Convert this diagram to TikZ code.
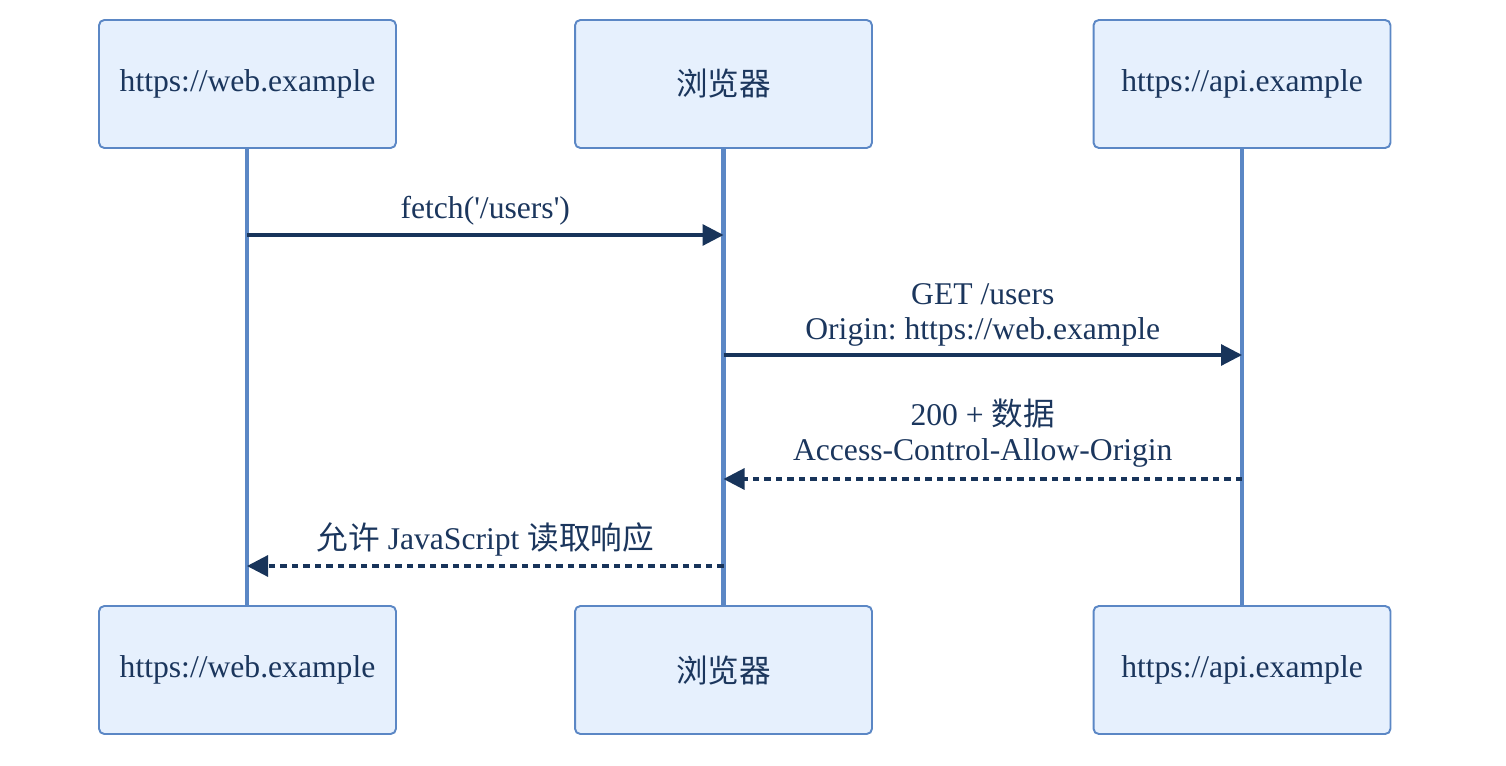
\documentclass[tikz,border=0pt]{standalone}
\usepackage{fontspec}
\setmainfont{Liberation Serif}
\newfontfamily\cjk{Noto Sans CJK SC}
\usepackage{tikz}
\usetikzlibrary{arrows.meta, positioning}
\definecolor{actorfill}{RGB}{230, 240, 253}
\definecolor{actorline}{RGB}{91, 135, 197}
\definecolor{msgcolor}{RGB}{24, 52, 90}
\definecolor{textcolor}{RGB}{27, 54, 93}
\frenchspacing

\begin{document}
\begin{tikzpicture}[
    x=0.02cm, y=-0.02cm,
    font=\fontsize{18}{19.9}\selectfont,
    actor/.style={draw=actorline, fill=actorfill, line width=1.1pt, rounded corners=3pt,
        minimum width=5.94cm, minimum height=2.56cm, text=textcolor, inner sep=0pt},
    lifeline/.style={draw=actorline, line width=2.3pt},
    msg/.style={-{Triangle[length=0.42cm, width=0.42cm]}, draw=msgcolor, line width=1.8pt},
    reply/.style={msg, dash pattern=on 0.13cm off 0.1cm},
    lbl/.style={text=textcolor, align=center, inner sep=0pt}
]
    \useasboundingbox (0,0) rectangle (1506,766);

    % Lifelines (drawn first, under the boxes)
    \coordinate (webtop) at (247,148);
    \coordinate (webbot) at (247,606);
    \coordinate (brtop) at (723.5,148);
    \coordinate (brbot) at (723.5,606);
    \coordinate (apitop) at (1242,148);
    \coordinate (apibot) at (1242,606);
    \draw[lifeline] (webtop) -- (webbot);
    \draw[lifeline] (brtop) -- (brbot);
    \draw[lifeline] (apitop) -- (apibot);

    % Participants
    \node[actor] (web) at (247.5,84) {https://web.example};
    \node[actor] (browser) at (723.5,84) {\cjk 浏览器};
    \node[actor] (api) at (1242,84) {https://api.example};
    \node[actor] (web2) at (247.5,670) {https://web.example};
    \node[actor] (browser2) at (723.5,670) {\cjk 浏览器};
    \node[actor] (api2) at (1242,670) {https://api.example};

    % Messages
    \draw[msg] (webtop |- 0,235) -- (brtop |- 0,235)
        node[lbl, midway, yshift=0.49cm] {fetch(\textquotesingle/users\textquotesingle)};
    \draw[msg] (brtop |- 0,355) -- (apitop |- 0,355)
        node[lbl, midway, yshift=0.8cm] {GET /users\\Origin: https://web.example};
    \draw[reply] (apitop |- 0,479) -- (brtop |- 0,479)
        node[lbl, midway, yshift=0.92cm] {200 + {\cjk 数据}\\Access-Control-Allow-Origin};
    \draw[reply] (brtop |- 0,566) -- (webtop |- 0,566)
        node[lbl, midway, yshift=0.54cm] {{\cjk 允许} JavaScript {\cjk 读取响应}};
\end{tikzpicture}
\end{document}
